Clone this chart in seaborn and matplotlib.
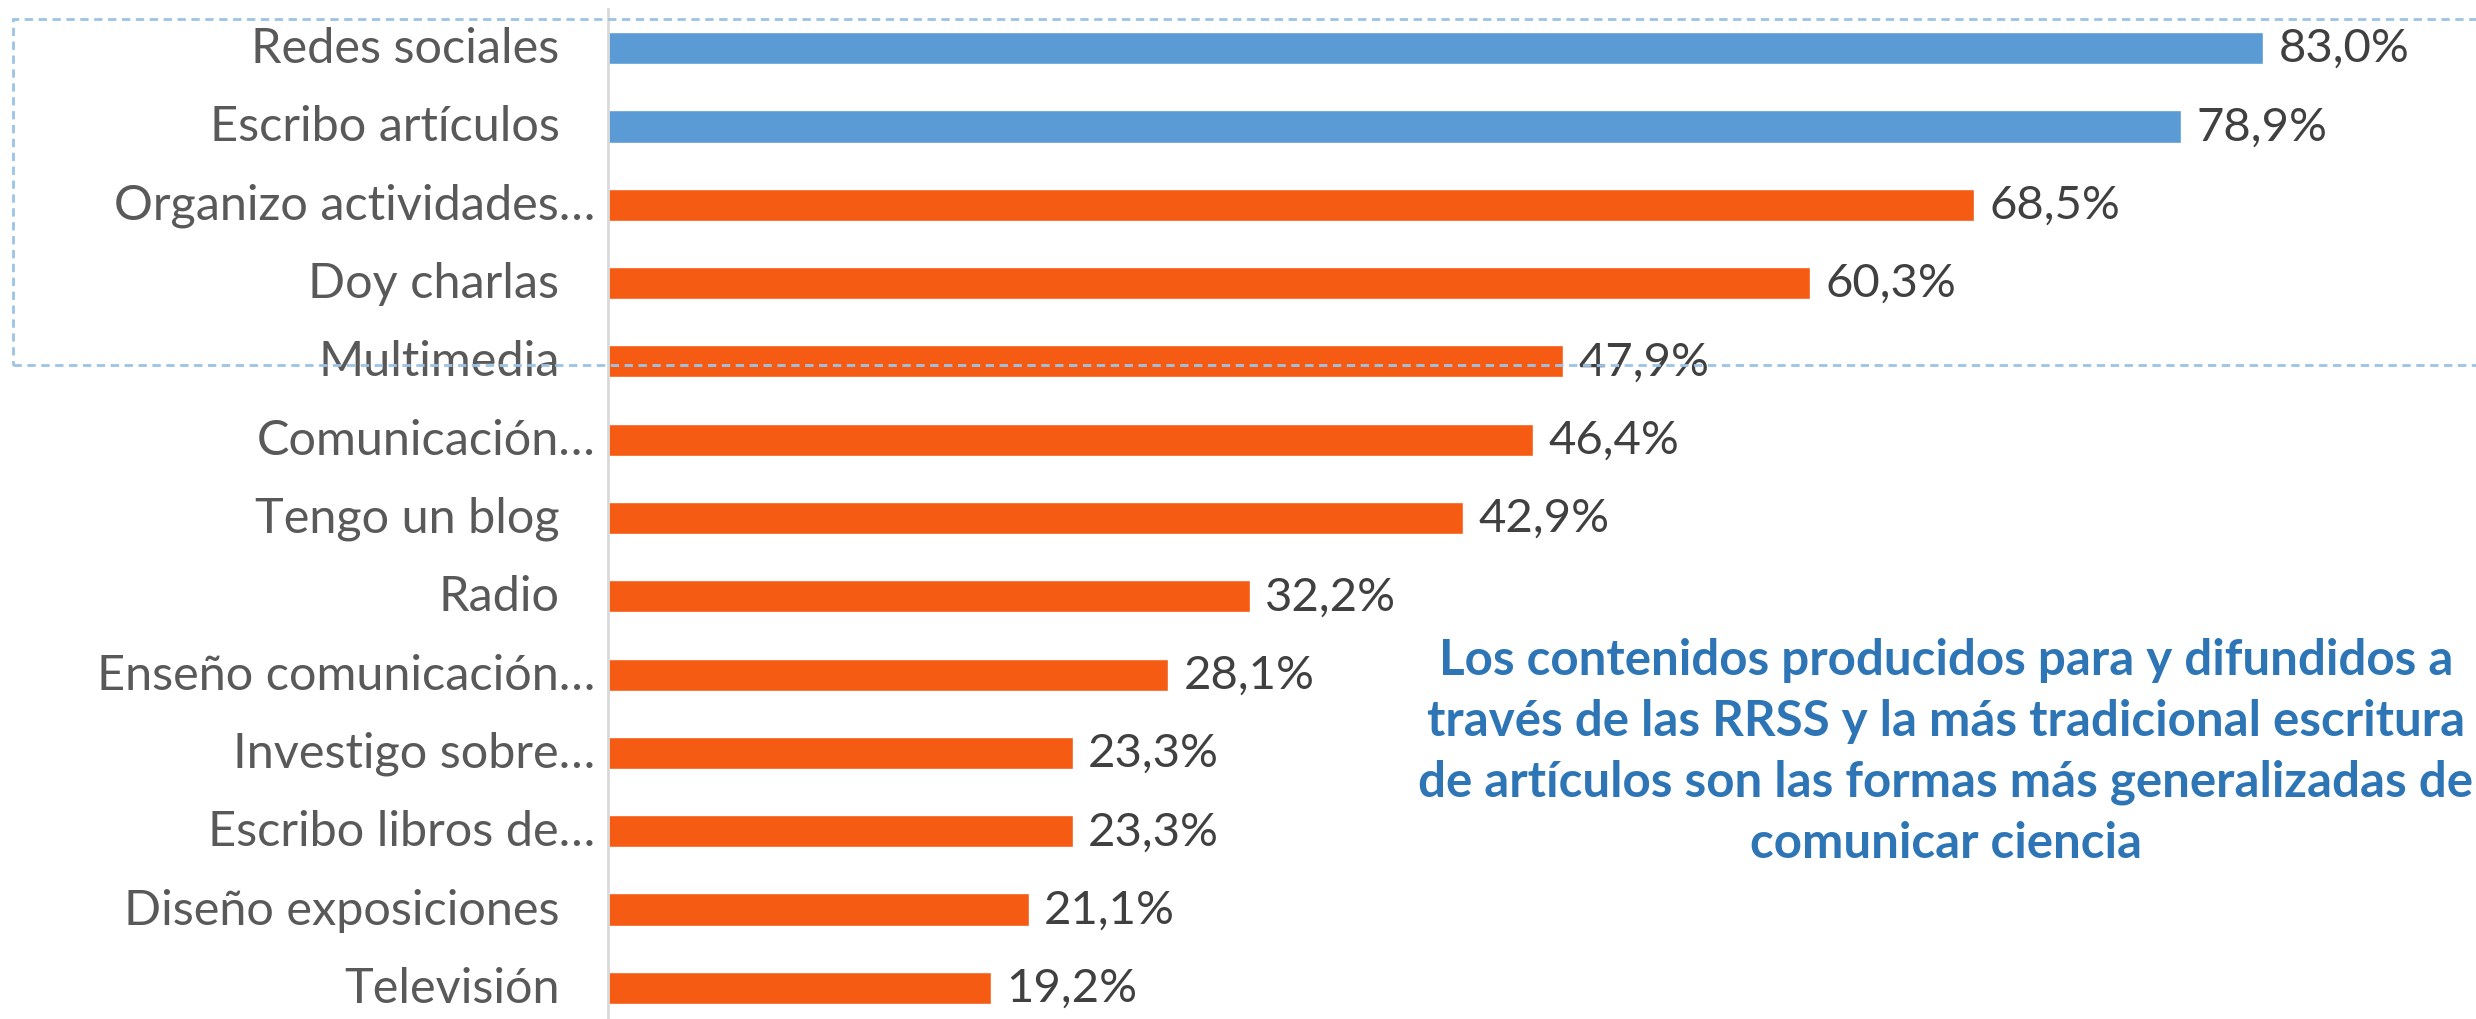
import numpy as np
import pandas as pd
import seaborn as sns
import matplotlib.pyplot as plt
from matplotlib.patches import Rectangle

sns.set_theme(style="white")
plt.rcParams['font.family'] = ['Lato', 'DejaVu Sans']

categories = ["Redes sociales", "Escribo artículos", "Organizo actividades…", "Doy charlas",
              "Multimedia", "Comunicación…", "Tengo un blog", "Radio",
              "Enseño comunicación…", "Investigo sobre…", "Escribo libros de…",
              "Diseño exposiciones", "Televisión"]
values = [83.0, 78.9, 68.5, 60.3, 47.9, 46.4, 42.9, 32.2, 28.1, 23.3, 23.3, 21.1, 19.2]
highlight = [True, True] + [False] * 11
note = ("Los contenidos producidos para y difundidos a\n"
        "través de las RRSS y la más tradicional escritura\n"
        "de artículos son las formas más generalizadas de\n"
        "comunicar ciencia")

df = pd.DataFrame({'cat': categories, 'val': values})
blue = '#5B9BD5'
orange = '#F65B13'
colors = [blue if h else orange for h in highlight]

fig = plt.figure(figsize=(24.76, 10.2), dpi=100)
ax = fig.add_axes([608 / 2476, -8 / 1020, 1 - 608 / 2476, 1018 / 1020])

sns.barplot(data=df, x='val', y='cat', hue='cat', palette=colors, legend=False,
            width=0.41, ax=ax, saturation=1)

ax.set_xlim(0, (2476 - 608) / 19.94)
ax.set_ylim(12.5, -0.5)
ax.set_xlabel('')
ax.set_ylabel('')
ax.set_xticks([])
ax.set_yticks([])
for s in ['top', 'right', 'bottom']:
    ax.spines[s].set_visible(False)
ax.spines['left'].set_color('#D9D9D9')
ax.spines['left'].set_linewidth(2)

# category labels: truncated ones sit closer to the axis
for i, c in enumerate(categories):
    pad = 9 if c.endswith('…') else 35
    ax.annotate(c, xy=(0, i), xycoords=('axes fraction', 'data'),
                xytext=(-pad, 0), textcoords='offset points',
                ha='right', va='center', fontsize=35, color='#595959')

for cont in ax.containers:
    ax.bar_label(cont, labels=[f"{v:.1f}%".replace('.', ',') for v in cont.datavalues],
                 padding=11, fontsize=34, color='#404040')

fig.text(1946 / 2476, 1 - 752 / 1020, note, ha='center', va='center',
         fontsize=35.5, fontweight='bold', color='#2E75B6', linespacing=1.42)

fig.patches.append(Rectangle((13 / 2476, 1 - 366 / 1020), 1.1, 346 / 1020,
                             transform=fig.transFigure, fill=False,
                             edgecolor='#9DC3E6', linestyle=(0, (3, 2)), linewidth=2))

fig.savefig('out.png', dpi=100)
